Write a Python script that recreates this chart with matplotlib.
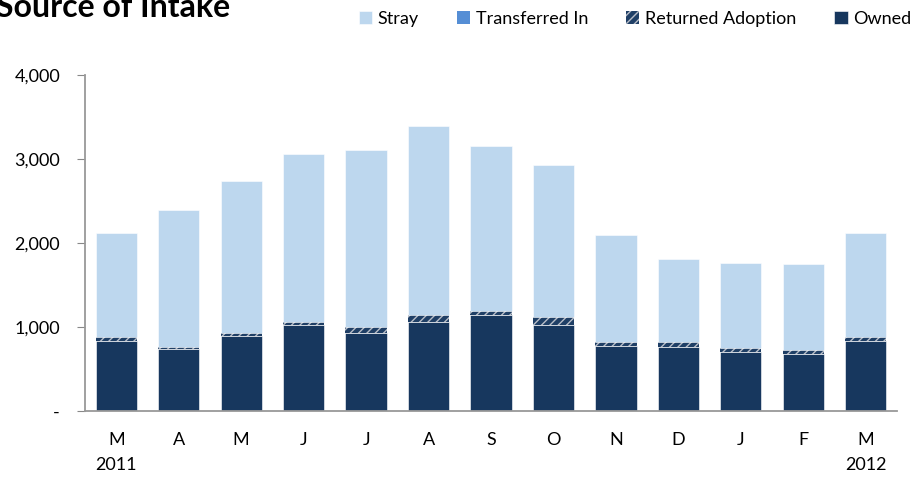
import numpy as np
import matplotlib.pyplot as plt
from matplotlib.ticker import FuncFormatter

# --- Dados ----------------------------------------------------------------

months = ["M\n2011", "A", "M", "J", "J", "A", "S", "O", "N", "D", "J", "F", "M\n2012"]
totals = [2125, 2395, 2740, 3065, 3110, 3390, 3160, 2930, 2100, 1815, 1760, 1745, 2120]
owned = [833, 736, 895, 1021, 935, 1062, 1140, 1021, 771, 760, 700, 676, 831]
returned_adoption = [45, 32, 40, 44, 71, 79, 56, 95, 56, 68, 48, 48, 48]
transferred_in = [0, 0, 0, 0, 0, 0, 0, 0, 0, 0, 0, 0, 0]

owned = np.array(owned)
returned_adoption = np.array(returned_adoption)
transferred_in = np.array(transferred_in)
stray = np.array(totals) - owned - returned_adoption - transferred_in

# --- Gráfico --------------------------------------------------------------

plt.rcParams['font.family'] = ['Lato', 'DejaVu Sans']
plt.rcParams['hatch.color'] = '#b8bec8'
plt.rcParams['hatch.linewidth'] = 1.0

fig = plt.figure(figsize=(9.2, 4.78), dpi=100)
ax = fig.add_axes([0.0924, 0.140, 0.8826, 0.703])

x = np.arange(len(months))
w = 0.66
c_owned = '#17375e'
c_ra = '#1f3f66'
c_tr = '#558ed5'
c_stray = '#bdd7ee'

ax.bar(x, owned, w, color=c_owned, edgecolor='white', linewidth=0.4, label='Owned')
b = owned
ax.bar(x, returned_adoption, w, bottom=b, color=c_ra, edgecolor='#b8bec8',
       linewidth=0, hatch='////', label='Returned Adoption')
b = b + returned_adoption
ax.bar(x, transferred_in, w, bottom=b, color=c_tr, linewidth=0, label='Transferred In')
b = b + transferred_in
ax.bar(x, stray, w, bottom=b, color=c_stray, edgecolor='white', linewidth=0.4, label='Stray')

ax.set_xlim(-0.5, len(months) - 0.5)
ax.set_ylim(0, 4000)
ax.set_yticks([0, 1000, 2000, 3000, 4000])
ax.yaxis.set_major_formatter(FuncFormatter(lambda v, p: '-' if v == 0 else f'{int(v):,}'))
ax.set_xticks(x)
ax.set_xticklabels(months, fontsize=13, linespacing=1.7, va='top')
ax.tick_params(axis='x', length=0, pad=15)
ax.tick_params(axis='y', labelsize=13, length=6, color='#888888', pad=12)

for s in ['top', 'right']:
    ax.spines[s].set_visible(False)
for s in ['left', 'bottom']:
    ax.spines[s].set_color('#999999')
    ax.spines[s].set_linewidth(1.3)

fig.text(-0.004, 0.985, 'Source of Intake', fontsize=23, fontweight='bold', va='center', ha='left')

h, l = ax.get_legend_handles_labels()
order = [3, 2, 1, 0]
fig.legend([h[i] for i in order], [l[i] for i in order], ncol=4, loc='upper right',
           bbox_to_anchor=(1.008, 1.012), frameon=False, fontsize=13,
           handlelength=0.75, handleheight=0.75, handletextpad=0.3, columnspacing=2.1)

fig.savefig('out.png', dpi=100)
